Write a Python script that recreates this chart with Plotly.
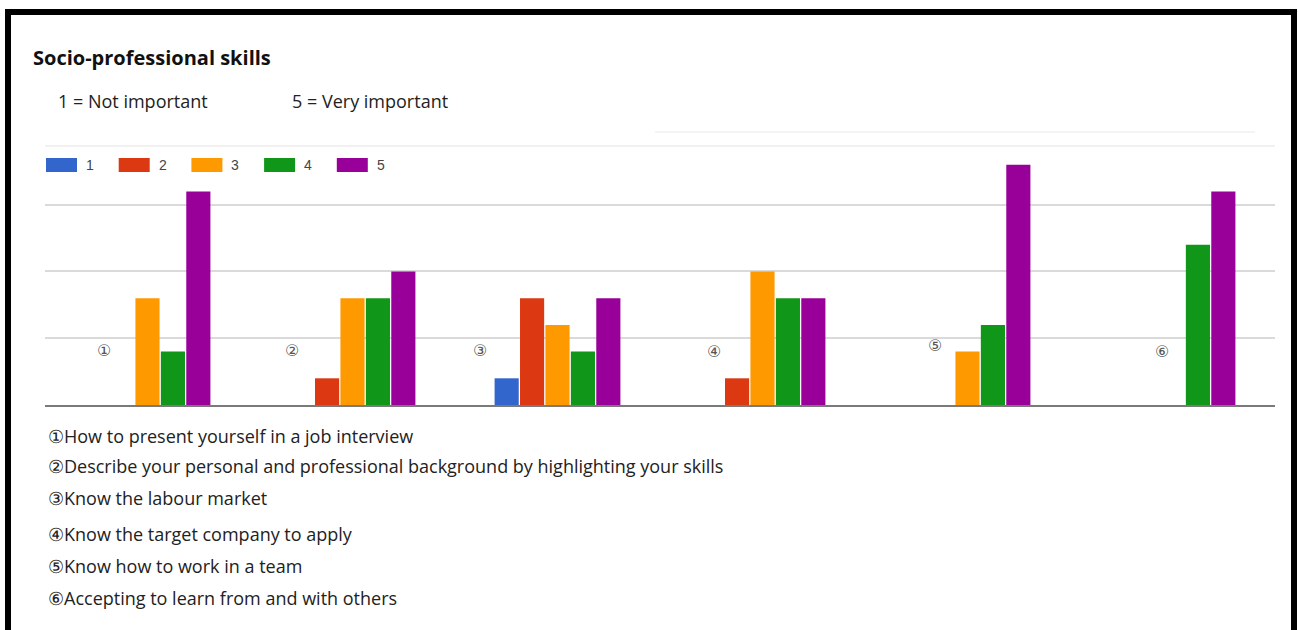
import plotly.graph_objects as go

# ---------------- data ----------------
items = [
    "How to present yourself in a job interview",
    "Describe your personal and professional background by highlighting your skills",
    "Know the labour market",
    "Know the target company to apply",
    "Know how to work in a team",
    "Accepting to learn from and with others",
]
item_marks = ["①", "②", "③", "④", "⑤", "⑥"]
scores = ["1", "2", "3", "4", "5"]
counts_1 = [0, 0, 1, 0, 0, 0]
counts_2 = [0, 1, 4, 1, 0, 0]
counts_3 = [4, 4, 3, 5, 2, 0]
counts_4 = [2, 4, 2, 4, 3, 6]
counts_5 = [8, 5, 4, 4, 9, 8]
series = [counts_1, counts_2, counts_3, counts_4, counts_5]
colors = ["#3366cc", "#dc3912", "#ff9900", "#109618", "#990099"]

title = "Socio-professional skills"
scale_low = "1 = Not important"
scale_high = "5 = Very important"

# ---------------- layout geometry (pixels) ----------------
W, H = 1298, 630
L, R, T, B = 45, 1275, 146, 405
FONT = "Open Sans"


def px_x(px):
    return (px - L) / (R - L)


def px_y(py):
    return (B - py) / (B - T)


fig = go.Figure()
for name, vals, col in zip(scores, series, colors):
    fig.add_trace(go.Bar(
        name=name, x=item_marks, y=vals,
        marker=dict(color=col, line=dict(width=0)),
        showlegend=False,
    ))

annotations = []
shapes = []

# title and scale explanation
annotations.append(dict(text="<b>" + title + "</b>", x=px_x(31), y=px_y(57),
                        xref="paper", yref="paper", xanchor="left", yanchor="middle",
                        showarrow=False, font=dict(family=FONT, size=20, color="#111")))
annotations.append(dict(text=scale_low, x=px_x(56), y=px_y(101),
                        xref="paper", yref="paper", xanchor="left", yanchor="middle",
                        showarrow=False, font=dict(family=FONT, size=18, color="#222")))
annotations.append(dict(text=scale_high, x=px_x(290), y=px_y(101),
                        xref="paper", yref="paper", xanchor="left", yanchor="middle",
                        showarrow=False, font=dict(family=FONT, size=18, color="#222")))

# manual legend (wide swatches like the original)
for i, (name, col) in enumerate(zip(scores, colors)):
    x0 = 46 + i * 72.7
    shapes.append(dict(type="rect", xref="paper", yref="paper",
                       x0=px_x(x0), x1=px_x(x0 + 31), y0=px_y(172), y1=px_y(158),
                       fillcolor=col, line=dict(width=0)))
    annotations.append(dict(text=name, x=px_x(x0 + 38), y=px_y(165),
                            xref="paper", yref="paper", xanchor="left", yanchor="middle",
                            showarrow=False, font=dict(family="Liberation Sans", size=14, color="#444")))

# circled item markers inside the plot
mark_x = [-0.212, 0.705, 1.622, 2.763, 3.841, 4.949]
mark_y = [2.06, 2.06, 2.06, 1.99, 2.21, 1.99]
for m, mx, my in zip(item_marks, mark_x, mark_y):
    annotations.append(dict(text=m, x=mx, y=my, xref="x", yref="y",
                            showarrow=False, font=dict(family="DejaVu Sans", size=16, color="#555")))

# item list below the chart
list_y = [436, 466, 498, 534, 566, 598]
for m, txt, ly in zip(item_marks, items, list_y):
    annotations.append(dict(text=m + txt, x=px_x(46), y=px_y(ly),
                            xref="paper", yref="paper", xanchor="left", yanchor="middle",
                            showarrow=False, font=dict(family=FONT, size=18, color="#222")))

# faint top lines
shapes.append(dict(type="line", xref="paper", yref="paper", x0=0, x1=1, y0=1, y1=1,
                   line=dict(color="#ececec", width=1.5)))
shapes.append(dict(type="line", xref="paper", yref="paper", x0=px_x(655), x1=px_x(1255),
                   y0=px_y(132), y1=px_y(132), line=dict(color="#f0f0f0", width=1.5)))

# outer black frame (open at the bottom)
path = "M {a},{b} L {a},{c} L {d},{c} L {d},{b}".format(
    a=px_x(8), b=px_y(640), c=px_y(12), d=px_x(1294))
shapes.append(dict(type="path", xref="paper", yref="paper", path=path,
                   line=dict(color="#000", width=6)))

fig.update_layout(
    width=W, height=H,
    margin=dict(l=L, r=W - R, t=T, b=H - B, pad=0),
    paper_bgcolor="white", plot_bgcolor="white",
    barmode="group", bargap=0.38, bargroupgap=0.05,
    showlegend=False,
    annotations=annotations, shapes=shapes,
    xaxis=dict(showticklabels=False, showgrid=False, zeroline=False,
               showline=True, linecolor="#7a7a7a", linewidth=2, ticks="",
               range=[-0.5, 5.5], fixedrange=True),
    yaxis=dict(range=[0, 9.7], tickvals=[2.5, 5, 7.5], showticklabels=False,
               showgrid=True, gridcolor="#dadada", gridwidth=1.5,
               zeroline=False, showline=False, ticks="", fixedrange=True),
)

fig.write_html("out.html", config={"displayModeBar": False})
